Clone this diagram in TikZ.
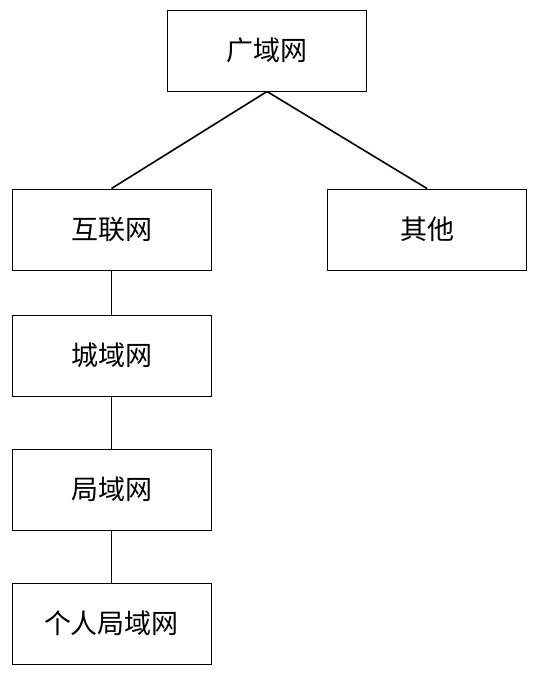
\documentclass[tikz,border=0pt]{standalone}
\usepackage{fontspec}
\newfontfamily\cjk{Noto Sans CJK SC}
\begin{document}
\begin{tikzpicture}[x=1pt,y=-1pt,
  box/.style={draw, line width=1pt, minimum width=199pt, minimum height=81pt, inner sep=0pt, font=\cjk\fontsize{27}{27}\selectfont},
  conn/.style={line width=1.6pt}]
\useasboundingbox (0,0) rectangle (535,673);
\node[box] (wan) at (267,50.5) {广域网};
\node[box] (inet) at (111.5,229.5) {互联网};
\node[box] (other) at (427,229.5) {其他};
\node[box] (man) at (111.5,355.5) {城域网};
\node[box] (lan) at (111.5,489.5) {局域网};
\node[box] (pan) at (111.5,623.5) {个人局域网};
\draw[conn] (wan.south) -- (inet.north);
\draw[conn] (wan.south) -- (other.north);
\draw[conn] (inet) -- (man);
\draw[conn] (man) -- (lan);
\draw[conn] (lan) -- (pan);
\end{tikzpicture}
\end{document}
